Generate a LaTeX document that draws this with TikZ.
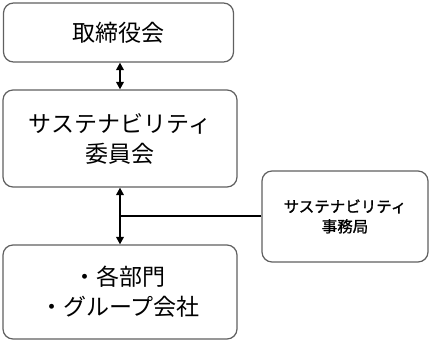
\documentclass[tikz,border=0pt]{standalone}
\usepackage{fontspec}
\newfontfamily\jp{Noto Sans CJK JP}
\newfontfamily\jpsmall[FakeBold=1.2]{Noto Sans CJK JP}
\usetikzlibrary{arrows.meta}
\definecolor{boxgray}{HTML}{606060}
\tikzset{
  orgbox/.style={draw=boxgray, line width=1.2pt, rounded corners=10pt, fill=white,
    align=center, inner sep=0pt, font=\jp\fontsize{23}{30}\selectfont},
  smallbox/.style={orgbox, font=\jpsmall\fontsize{15.5}{20}\selectfont},
  link/.style={line width=2pt, black},
  dblarrow/.style={link, {Triangle[width=7.5pt,length=7.5pt]}-{Triangle[width=7.5pt,length=7.5pt]}}
}
\begin{document}
\begin{tikzpicture}[x=1pt,y=1pt]
\useasboundingbox (0,0) rectangle (432,343);
\node[orgbox, minimum width=230pt, minimum height=59pt] (board) at (118.5,310.5) {取締役会};
\node[orgbox, minimum width=234pt, minimum height=97pt] (comm) at (120,204.5) {サステナビリティ\\委員会};
\node[orgbox, minimum width=234pt, minimum height=94pt] (dept) at (120,51) {・各部門\\・グループ会社};
\node[smallbox, minimum width=166pt, minimum height=91pt] (office) at (345,126.5) {サステナビリティ\\事務局};
\draw[dblarrow] (board.south -| comm.north) -- (comm.north);
\draw[dblarrow] (comm.south) -- (dept.north);
\draw[link] (office.west) -- (office.west -| comm.south);
\end{tikzpicture}
\end{document}
